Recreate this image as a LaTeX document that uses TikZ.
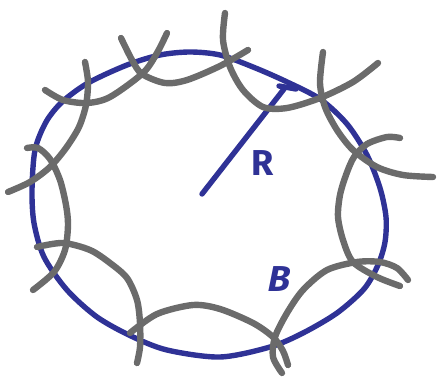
\documentclass[tikz,border=0pt]{standalone}
\usepackage{fontspec}
\setsansfont{Fira Sans}

\definecolor{azul}{HTML}{2F3296}
\definecolor{cinza}{HTML}{6B6B6B}

\tikzset{
  contorno/.style={azul, line width=5.4pt, line cap=round, line join=round},
  fio/.style={cinza, line width=6.4pt, line cap=round},
  rotulo/.style={azul, font=\sffamily\bfseries\fontsize{36}{36}\selectfont, inner sep=0pt}
}

\begin{document}
\begin{tikzpicture}[x=1pt, y=-1pt]
\useasboundingbox (0,0) rectangle (441,377);

% Contorno (elipse azul)
\draw[contorno] plot[smooth cycle] coordinates {
  (32,190) (35,150) (46,122) (62,102) (88,83) (127,65) (160,55) (190,52)
  (220,55) (253,67) (285,81) (320,99) (347,124) (367,155) (380,188)
  (386,217) (385,242) (378,265) (364,289) (337,313) (303,333) (270,347)
  (220,357) (167,350) (131,336) (97,317) (67,290) (44,257) (34,223)};

% Raio
\coordinate (centro) at (202,194);
\coordinate (borda) at (284,89);
\draw[contorno] (centro) -- (borda);
\draw[contorno] (279,86) -- (296,89);

% Fios (arcos cinza)
\draw[fio] plot[smooth] coordinates {(121,38) (132,60) (142,74) (165,83) (187,80) (220,66) (248,50)};
\draw[fio] plot[smooth] coordinates {(45,90) (63,100) (87,103) (110,97) (143,73) (157,53) (167,33)};
\draw[fio] plot[smooth] coordinates {(85,62) (88,82) (86,105) (79,127) (66,148) (50,167) (30,182) (8,192)};
\draw[fio] plot[smooth] coordinates {(27,148) (38,148) (50,159) (60,180) (66,205) (68,225) (65,250) (54,272) (33,290)};
\draw[fio] plot[smooth] coordinates {(37,247) (63,243) (90,250) (110,263) (127,278) (137,300) (140,323) (140,347) (137,363)};
\draw[fio] plot[smooth] coordinates {(130,333) (157,314) (193,305) (220,309) (253,323) (273,337) (283,351) (288,365)};
\draw[fio] plot[smooth] coordinates {(282,373) (273,357) (275,337) (287,313) (303,290) (327,270) (357,262) (380,262) (397,268) (408,280)};
\draw[fio] plot[smooth] coordinates {(400,286) (377,277) (353,262) (343,240) (338,217) (340,195) (346,175) (354,157) (367,144) (387,137) (400,138)};
\draw[fio] plot[smooth] coordinates {(323,52) (320,83) (325,107) (337,130) (353,150) (377,167) (403,175) (433,177)};
\draw[fio] plot[smooth] coordinates {(225,13) (223,40) (230,67) (243,90) (263,107) (287,108) (320,98) (353,82) (378,63)};

% Rotulos
\node[rotulo] (raio) at (263,163) {R};
\node[rotulo, xslant=0.2] (bola) at (280,279) {B};

\end{tikzpicture}
\end{document}
